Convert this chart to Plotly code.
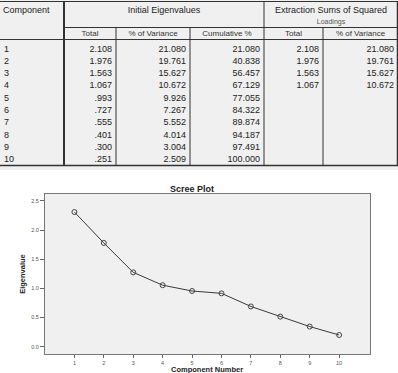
import plotly.graph_objects as go

# ---------------- data ----------------
components = ["1", "2", "3", "4", "5", "6", "7", "8", "9", "10"]
init_total = ["2.108", "1.976", "1.563", "1.067", ".993", ".727", ".555", ".401", ".300", ".251"]
init_pct = ["21.080", "19.761", "15.627", "10.672", "9.926", "7.267", "5.552", "4.014", "3.004", "2.509"]
init_cum = ["21.080", "40.838", "56.457", "67.129", "77.055", "84.322", "89.874", "94.187", "97.491", "100.000"]
ext_total = ["2.108", "1.976", "1.563", "1.067"]
ext_pct = ["21.080", "19.761", "15.627", "10.672"]

scree_x = [1, 2, 3, 4, 5, 6, 7, 8, 9, 10]
scree_eigen = [2.31, 1.78, 1.275, 1.055, 0.955, 0.915, 0.69, 0.515, 0.345, 0.20]
y_ticks = [0.0, 0.5, 1.0, 1.5, 2.0, 2.5]
y_ticklabels = ["0.0", "0.5", "1.0", "1.5", "2.0", "2.5"]

group_headers = ["Initial Eigenvalues", "Extraction Sums of Squared"]
sub_headers = ["Total", "% of Variance", "Cumulative %", "Total", "% of Variance"]

# ---------------- layout constants ----------------
W, H = 398, 373
TABLE_H = 170
col_edges = [0, 64, 116, 190, 264, 323, 398]
row0_y, row_h = 49.3, 12.3
TXT = "#222222"
FONT = "Liberation Sans, Arial, sans-serif"

fig = go.Figure()

# ---------------- table (on x2/y2, pixel-like units) ----------------
row_y = [row0_y + row_h * i for i in range(len(components))]

def add_text(xs, ys, texts, pos, size=9, color=TXT):
    fig.add_trace(go.Scatter(
        x=xs, y=ys, text=texts, mode="text", textposition=pos,
        textfont=dict(family=FONT, size=size, color=color),
        xaxis="x2", yaxis="y2", hoverinfo="skip", showlegend=False))

# component labels (left aligned)
add_text([col_edges[0] + 4] * len(components), row_y, components, "middle right")
# numeric columns (right aligned)
for ci, col in enumerate([init_total, init_pct, init_cum, ext_total, ext_pct]):
    xr = col_edges[ci + 2] - 4
    add_text([xr] * len(col), row_y[:len(col)], col, "middle left")

# headers
add_text([3], [10.5], ["Component"], "middle right")
add_text([(col_edges[1] + col_edges[4]) / 2, (col_edges[4] + col_edges[6]) / 2],
         [10.5, 10.5], group_headers, "middle center")
add_text([(col_edges[4] + col_edges[6]) / 2], [22.5], ["Loadings"], "middle center", size=7, color="#555555")
add_text([(col_edges[i] + col_edges[i + 1]) / 2 for i in range(1, 6)], [33.8] * 5,
         sub_headers, "middle center", size=8, color="#333333")

def hline(y, x0, x1, w=1, c="#333333"):
    fig.add_shape(type="line", xref="x2", yref="y2", x0=x0, x1=x1, y0=y, y1=y,
                  line=dict(color=c, width=w))

def vline(x, y0, y1, w=1, c="#333333"):
    fig.add_shape(type="line", xref="x2", yref="y2", x0=x, x1=x, y0=y0, y1=y1,
                  line=dict(color=c, width=w))

top, gsep, hsep, bottom = 1.5, 27.5, 39.5, 165.5
hline(top, 0, 398)
hline(gsep, col_edges[1], 398)
hline(hsep, 0, 398)
hline(bottom, 0, 398, w=1.5)
vline(col_edges[1], top, bottom, w=2)
vline(col_edges[2], gsep, bottom)
vline(col_edges[3], gsep, bottom)
vline(col_edges[4], top, bottom)
vline(col_edges[5], gsep, bottom)
vline(397.5, top, bottom, w=1.5)

# ---------------- scree plot ----------------
fig.add_trace(go.Scatter(
    x=scree_x, y=scree_eigen, mode="lines+markers",
    line=dict(color="#3a3a3a", width=1),
    marker=dict(symbol="circle-open", size=5, color="#444444", line=dict(width=1)),
    hoverinfo="skip", showlegend=False))

px_x0, px_x1 = 45, 370
px_y0, px_y1 = 194, 354

fig.update_layout(
    width=W, height=H,
    margin=dict(l=0, r=0, t=0, b=0),
    paper_bgcolor="white",
    plot_bgcolor="#f0f0f0",
    font=dict(family=FONT, color=TXT),
    xaxis=dict(
        domain=[px_x0 / W, px_x1 / W], range=[0, 11.05],
        tickmode="array", tickvals=scree_x, ticktext=components,
        ticks="outside", ticklen=3, tickcolor="#666666",
        tickfont=dict(size=5.5, color="#555555"),
        showgrid=False, zeroline=False,
        showline=True, linecolor="#777777", linewidth=1, mirror=True,
        automargin=False, fixedrange=True),
    yaxis=dict(
        domain=[1 - px_y1 / H, 1 - px_y0 / H], range=[-0.126, 2.62],
        tickmode="array", tickvals=y_ticks, ticktext=y_ticklabels,
        ticks="outside", ticklen=4, tickcolor="#666666",
        tickfont=dict(size=5.5, color="#555555"),
        showgrid=False, zeroline=False,
        showline=True, linecolor="#777777", linewidth=1, mirror=True,
        title=dict(text="<b>Eigenvalue</b>", font=dict(size=7.5, color="#222222"), standoff=4),
        automargin=False, fixedrange=True),
    xaxis2=dict(domain=[0, 1], range=[0, W], visible=False, fixedrange=True),
    yaxis2=dict(domain=[1 - TABLE_H / H, 1], range=[TABLE_H, 0], visible=False, fixedrange=True),
    annotations=[
        dict(text="<b>Scree Plot</b>", x=191.5 / W, y=1 - 189 / H,
             xref="paper", yref="paper", showarrow=False,
             font=dict(size=9, color="#222222"), xanchor="center", yanchor="middle"),
        dict(text="<b>Component Number</b>", x=(px_x0 + px_x1) / 2 / W, y=1 - 369.5 / H,
             xref="paper", yref="paper", showarrow=False,
             font=dict(size=7.5, color="#222222"), xanchor="center", yanchor="middle"),
    ],
)

fig.write_html("out.html")
